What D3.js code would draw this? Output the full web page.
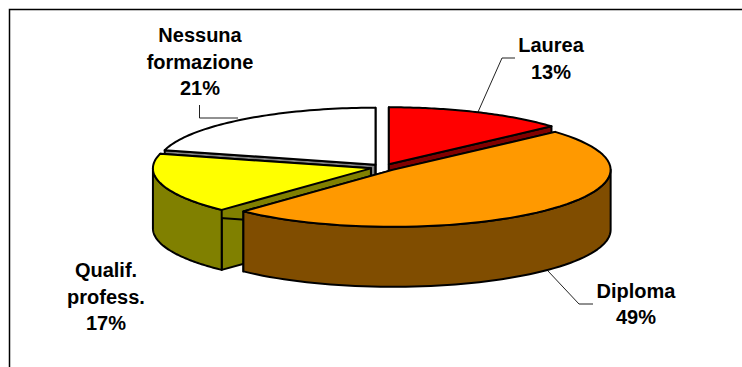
<!DOCTYPE html>
<html>
<head>
<meta charset="utf-8">
<script src="https://cdn.jsdelivr.net/npm/d3@7"></script>
<style>
  html, body { margin: 0; padding: 0; background: #fff; }
  svg { display: block; }
  .label { font-family: "Liberation Sans", Arial, sans-serif; font-weight: bold; font-size: 20px; fill: #000; text-anchor: middle; }
</style>
</head>
<body>
<div id="chart"></div>
<script>
const categories = ['Laurea', 'Diploma', 'Qualif. professionale', 'Nessuna formazione'];
// labels show them rounded
const values = [13.4, 48.6, 17.1, 20.9];
const labelLines = [['Laurea', '13%'], ['Diploma', '49%'], ['Qualif.', 'profess.', '17%'], ['Nessuna', 'formazione', '21%']];
const topColors = ['#ff0000', '#ff9900', '#ffff00', '#ffffff'];
const sideColors = ['#800000', '#804d00', '#808000', '#808080'];

const width = 742, height = 367;
const cx = 383.5, cy = 167.4, rx = 218, ry = 57, depth = 60, explode = 0.06;

const svg = d3.select('#chart').append('svg')
  .attr('width', width)
  .attr('height', height);

// chart frame, only left and top edges are in the crop
svg.append('path')
  .attr('d', 'M9.5,367V9.5H742')
  .attr('fill', 'none')
  .attr('stroke', '#000')
  .attr('stroke-width', 1.5);

const pie = d3.pie().sort(null).value(d => d);
const slices = pie(values);

// angles run clockwise from 12 o'clock, like d3.arc
const px = (d, a) => d.ox + rx * Math.sin(a);
const py = (d, a) => d.oy - ry * Math.cos(a);
slices.forEach(d => {
  const mid = (d.startAngle + d.endAngle) / 2;
  d.ox = cx + explode * rx * Math.sin(mid);
  d.oy = cy - explode * ry * Math.cos(mid);
});

const line = d3.line();
const arcPoints = (d, a0, a1) => d3.range(0, 61).map(i => {
  const a = a0 + (a1 - a0) * i / 60;
  return [px(d, a), py(d, a)];
});

const drawOrder = [3, 0, 2, 1];

// leader lines sit under the pie
const leaders = [
  [[478, 112], [502, 58], [515, 58]],
  [[548, 271], [579, 304], [593, 304]],
  [[199.5, 105], [199.5, 118], [238, 118]]
];
svg.selectAll('.leader').data(leaders).enter().append('path')
  .attr('class', 'leader')
  .attr('d', d => line(d))
  .attr('fill', 'none')
  .attr('stroke', '#222');

drawOrder.forEach(i => {
  const d = slices[i];
  const g = svg.append('g').attr('class', 'slice');
  const side = sideColors[i];

  // cut faces
  [d.startAngle, d.endAngle].forEach(a => {
    g.append('path')
      .attr('d', line([[d.ox, d.oy], [px(d, a), py(d, a)], [px(d, a), py(d, a) + depth], [d.ox, d.oy + depth]]) + 'Z')
      .attr('fill', side)
      .attr('stroke', '#000')
      .attr('stroke-width', 2)
      .attr('stroke-linejoin', 'round');
  });

  // outer wall, only the part facing the viewer
  const a0 = Math.max(d.startAngle, Math.PI / 2);
  const a1 = Math.min(d.endAngle, Math.PI * 1.5);
  if (a1 > a0) {
    const upper = arcPoints(d, a0, a1);
    const lower = upper.map(p => [p[0], p[1] + depth]).reverse();
    g.append('path')
      .attr('d', line(upper.concat(lower)) + 'Z')
      .attr('fill', side)
      .attr('stroke', '#000')
      .attr('stroke-width', 2)
      .attr('stroke-linejoin', 'round');
  }

  // top face
  g.append('path')
    .attr('d', line([[d.ox, d.oy]].concat(arcPoints(d, d.startAngle, d.endAngle))) + 'Z')
    .attr('fill', topColors[i])
    .attr('stroke', '#000')
    .attr('stroke-width', 2)
    .attr('stroke-linejoin', 'round');
});

// label anchors: centre x and first baseline
const labelPos = [[551, 52], [636, 297.5], [106, 277], [200, 42]];
const labels = svg.selectAll('.label').data(labelLines).enter().append('text')
  .attr('class', 'label')
  .attr('transform', (d, i) => 'translate(' + labelPos[i][0] + ',' + labelPos[i][1] + ')');
labels.selectAll('tspan').data(d => d).enter().append('tspan')
  .attr('x', 0)
  .attr('y', (d, i) => i * 26.5)
  .text(d => d);
</script>
</body>
</html>
